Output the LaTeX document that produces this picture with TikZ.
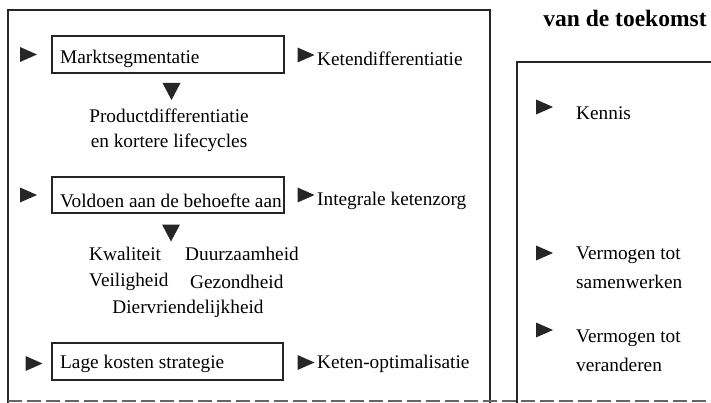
\documentclass[tikz,border=0pt]{standalone}
\usepackage{fontspec}
\setmainfont{Liberation Serif}
\begin{document}
\begin{tikzpicture}[x=1pt,y=-1pt,
  txt/.style={inner sep=0pt,anchor=west,font=\fontsize{19.3}{23}\selectfont},
  ctr/.style={inner sep=0pt,font=\fontsize{19.3}{23}\selectfont},
  ibox/.style={draw=black!85,line width=1.1pt},
  obox/.style={draw=black!85,line width=1.8pt},
  rtri/.pic={\fill[black!85] (-8.5,-7.5) -- (8.5,0) -- (-8.5,7.5) -- cycle;},
  dtri/.pic={\fill[black!85] (-9,-8.5) -- (9,-8.5) -- (0,8.5) -- cycle;}]
\useasboundingbox (0,0) rectangle (711,403);
% outer boxes
\draw[obox] (8,403) -- (8,10) -- (490,10) -- (490,403);
\draw[obox] (517,403) -- (517,62) -- (715,62);
\draw[black!60,line width=1.4pt,dash pattern=on 14pt off 5pt] (8,401) -- (711,401);
% title
\node[inner sep=0pt,font=\fontsize{23.5}{26}\selectfont\bfseries] (title) at (625,18) {van de toekomst};
% row 1
\pic at (28.5,54.5) {rtri};
\draw[ibox] (52,36) rectangle (284,73);
\node[txt] (markt) at (60,58.5) {Marktsegmentatie};
\pic at (306,55) {rtri};
\node[txt] (ketdif) at (317,58.5) {Ketendifferentiatie};
\pic at (171.5,91.5) {dtri};
\node[ctr] (prod) at (169,115.5) {Productdifferentiatie};
\node[ctr] (kort) at (169,142.5) {en kortere lifecycles};
% row 2
\pic at (28.5,195) {rtri};
\draw[ibox] (52,177) rectangle (284,213);
\node[txt] (voldoen) at (60,200.5) {Voldoen aan de behoefte aan};
\pic at (306,195) {rtri};
\node[txt] (integraal) at (317,200.5) {Integrale ketenzorg};
\pic at (171,233) {dtri};
\node[txt] (kwal) at (89,253.5) {Kwaliteit};
\node[txt] (duur) at (185,253.5) {Duurzaamheid};
\node[txt] (veil) at (89,282) {Veiligheid};
\node[txt] (gez) at (190,282) {Gezondheid};
\node[ctr] (dier) at (188,308.5) {Diervriendelijkheid};
% row 3
\pic at (34,363.5) {rtri};
\draw[ibox] (52,343) rectangle (283,380);
\node[txt] (lage) at (60,363.5) {Lage kosten strategie};
\pic at (306,362.5) {rtri};
\node[txt] (ketopt) at (317,363.5) {Keten-optimalisatie};
% right box
\pic at (544.5,107) {rtri};
\node[txt] (kennis) at (576,113.5) {Kennis};
\pic at (544.5,253) {rtri};
\node[txt] (verm1) at (576,255) {Vermogen tot};
\node[txt] (samen) at (576,282) {samenwerken};
\pic at (544.5,330) {rtri};
\node[txt] (verm2) at (576,338) {Vermogen tot};
\node[txt] (veran) at (576,365) {veranderen};
\end{tikzpicture}
\end{document}
